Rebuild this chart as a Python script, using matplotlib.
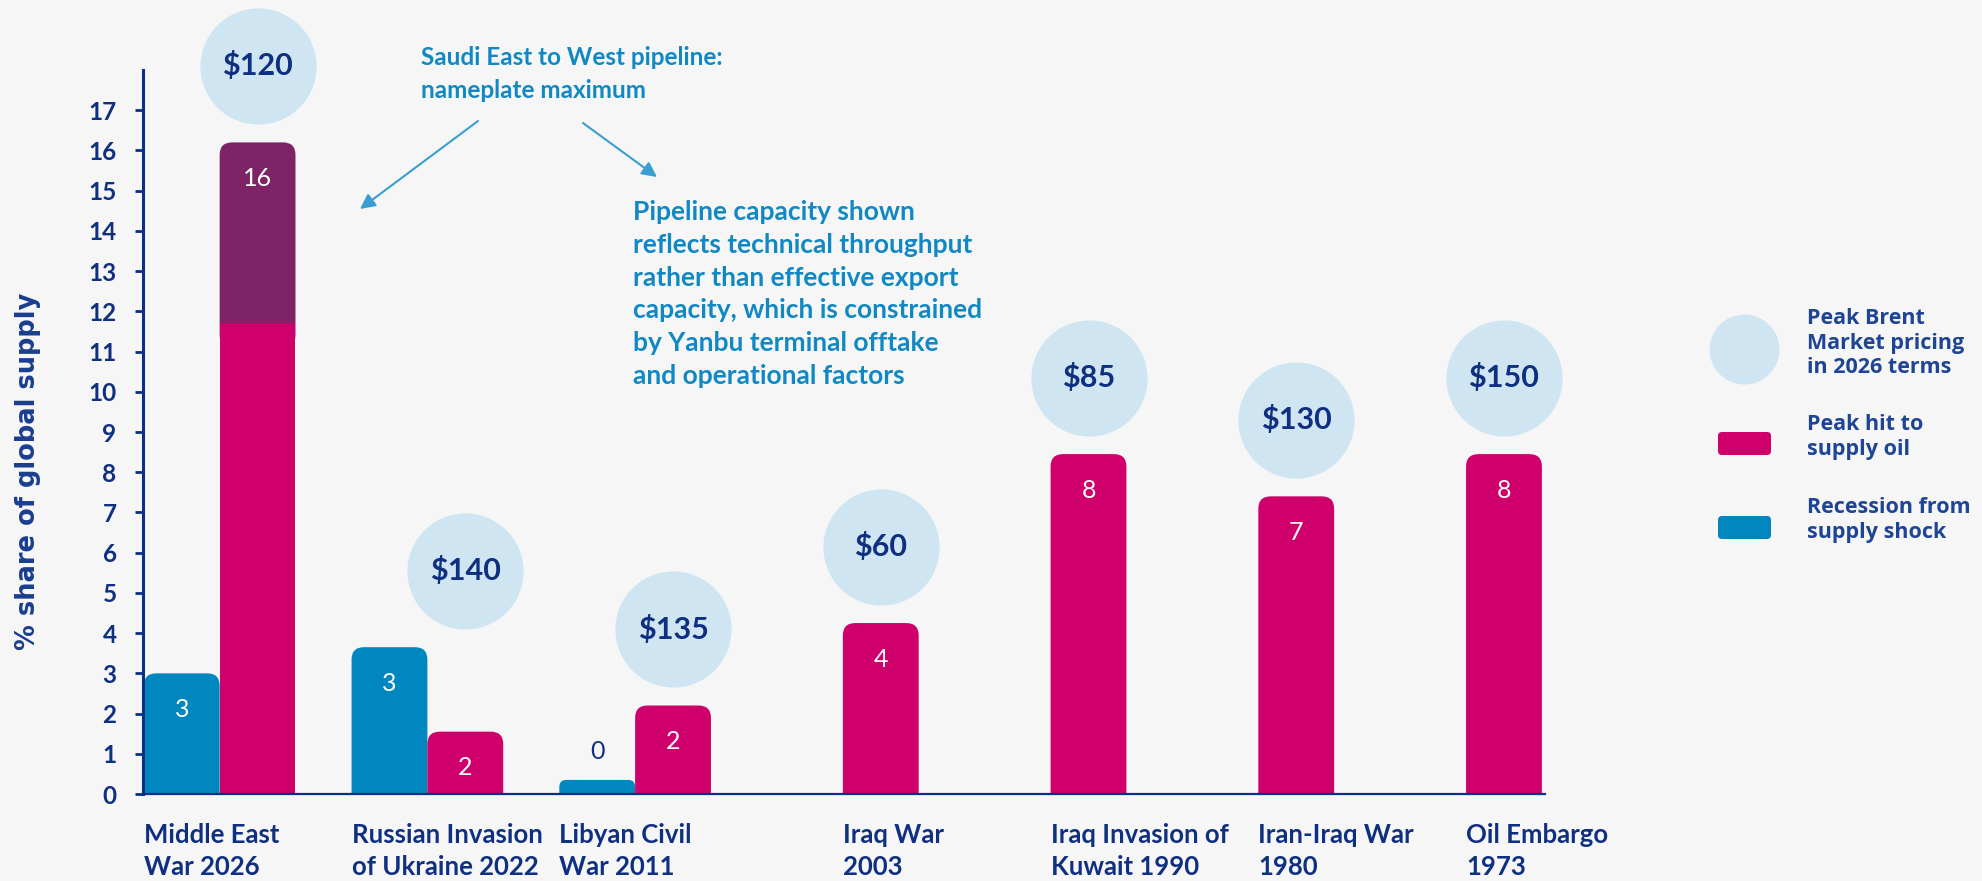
import matplotlib
matplotlib.use("Agg")
import matplotlib.pyplot as plt
import numpy as np
from matplotlib import font_manager
from matplotlib.patches import FancyBboxPatch

# values (% share of global supply)
categories = ["Middle East\nWar 2026", "Russian Invasion\nof Ukraine 2022", "Libyan Civil\nWar 2011",
              "Iraq War\n2003", "Iraq Invasion of\nKuwait 1990", "Iran-Iraq War\n1980", "Oil Embargo\n1973"]
recession = [3.0, 3.65, 0.35, np.nan, np.nan, np.nan, np.nan]
supply_hit = [11.7, 1.55, 2.2, 4.25, 8.45, 7.4, 8.45]
pipeline_extra = [4.5, 0, 0, 0, 0, 0, 0]
recession_labels = ["3", "3", "0", "", "", "", ""]
supply_labels = ["", "2", "2", "4", "8", "7", "8"]
pipeline_labels = ["16", "", "", "", "", "", ""]
brent_prices = ["$120", "$140", "$135", "$60", "$85", "$130", "$150"]
y_ticks = list(range(0, 18))

BG = "#f6f6f6"
NAVY = "#0f2f80"
LEG_NAVY = "#1e4495"
AXIS = "#0a2f86"
BLUE = "#0187bf"
MAGENTA = "#cf006b"
PURPLE = "#7e2466"
BUBBLE = "#cfe6f2"
NOTE = "#0f88c4"
ARROW = "#3a9ed0"

installed = {f.name for f in font_manager.fontManager.ttflist}


def pick(*names):
    for n in names:
        if n in installed:
            return n
    return "DejaVu Sans"


MAIN = pick("Lato", "Roboto", "Open Sans")
PLAIN = pick("Open Sans", "Lato", "DejaVu Sans")

W, H = 1982, 881
fig = plt.figure(figsize=(W / 100, H / 100), dpi=100, facecolor=BG)
ax = fig.add_axes([143 / W, 1 - 794 / H, (1545 - 143) / W, (794 - 70) / H])
ax.set_facecolor(BG)

x = np.arange(len(categories))
bw = 0.365
ax.set_xlim(-0.369, 6.38)
ax.set_ylim(0, 18)

rec_bars = ax.bar(x - bw, recession, width=bw, align="edge", color=BLUE, zorder=2)
hit_bars = ax.bar(x, supply_hit, width=bw, align="edge", color=MAGENTA, zorder=2)
pipe_bars = ax.bar(x, pipeline_extra, width=bw, bottom=supply_hit, align="edge", color=PURPLE, zorder=2)

# swap each top segment for a box with rounded top corners; the bottom corners
# are pushed below the baseline (clipped) or under the segment below
p0 = ax.transData.transform((0, 0))
p1 = ax.transData.transform((1, 1))
aspect = (p1[0] - p0[0]) / (p1[1] - p0[1])


def round_top(rect, radius=0.06, zorder=2):
    h = rect.get_height()
    rect.set_visible(False)
    if not np.isfinite(h) or h <= 0:
        return
    x0, y0 = rect.get_xy()
    w = rect.get_width()
    ext = 0.6
    r = min(radius, 0.5 * h / aspect, 0.5 * w)
    ax.add_patch(FancyBboxPatch((x0, y0 - ext), w, h + ext,
                                boxstyle=f"round,pad=0,rounding_size={r}",
                                mutation_aspect=aspect, fc=rect.get_facecolor(), ec="none",
                                lw=0, zorder=zorder))


for r in rec_bars:
    round_top(r)
for i, r in enumerate(hit_bars):
    if pipeline_extra[i] <= 0:
        round_top(r)
for r in pipe_bars:
    round_top(r, zorder=1.9)

# value labels
lab_kw = dict(ha="center", va="center", fontsize=18, family=MAIN, zorder=4)
for i in x:
    if recession_labels[i]:
        h = recession[i]
        if h > 1.5:
            ax.text(i - bw / 2, h - 0.9, recession_labels[i], color="white", **lab_kw)
        else:
            ax.text(i - bw / 2, h + 0.7, recession_labels[i], color=NAVY, **lab_kw)
    if supply_labels[i]:
        ax.text(i + bw / 2, supply_hit[i] - 0.9, supply_labels[i], color="white", **lab_kw)
    if pipeline_labels[i]:
        ax.text(i + bw / 2, supply_hit[i] + pipeline_extra[i] - 0.9, pipeline_labels[i],
                color="white", **lab_kw)

# Brent price bubbles above the supply-hit bars
group_top = np.nanmax(np.vstack([np.nan_to_num(recession),
                                 np.add(supply_hit, pipeline_extra)]), axis=0)
bubble_x = x + bw / 2
bubble_y = group_top + 1.9
ax.scatter(bubble_x, bubble_y, s=7000, color=BUBBLE, linewidths=0, clip_on=False, zorder=3)
for i, p in enumerate(brent_prices):
    ax.text(bubble_x[i], bubble_y[i], p, ha="center", va="center", fontsize=22, fontweight="bold",
            family=MAIN, color=NAVY, zorder=4, clip_on=False)

# category labels, left aligned under the first bar of each group
for i, cat in enumerate(categories):
    left = i - bw if np.isfinite(recession[i]) else i
    ax.text(left, -0.72, cat, ha="left", va="top", fontsize=18.5, fontweight="bold",
            family=MAIN, color=NAVY, linespacing=1.38, clip_on=False)

# axes styling
for s in ["top", "right"]:
    ax.spines[s].set_visible(False)
ax.spines["left"].set_color(AXIS)
ax.spines["left"].set_linewidth(2.2)
ax.spines["bottom"].set_color(AXIS)
ax.spines["bottom"].set_linewidth(1.6)
ax.set_xticks([])
ax.set_yticks(y_ticks)
ax.tick_params(axis="y", length=6, width=2, color=AXIS, pad=13, labelsize=17.5, labelcolor=NAVY)
for lbl in ax.get_yticklabels():
    lbl.set_fontfamily(MAIN)
    lbl.set_fontweight("bold")

# overlay in reference pixel coordinates for notes and legend
ov = fig.add_axes([0, 0, 1, 1], zorder=5)
ov.set_xlim(0, W)
ov.set_ylim(H, 0)
ov.axis("off")
ov.patch.set_visible(False)

ov.text(28, 471, "% share of global supply", rotation=90, ha="center", va="center",
        fontsize=18.5, fontweight="bold", family="DejaVu Sans", color="#1a3e8f")

ov.text(421, 74, "Saudi East to West pipeline:\nnameplate maximum", ha="left", va="center",
        fontsize=17.5, fontweight="bold", family=MAIN, color=NOTE, linespacing=1.55)
ov.text(633, 294, "Pipeline capacity shown\nreflects technical throughput\nrather than effective export\n"
        "capacity, which is constrained\nby Yanbu terminal offtake\nand operational factors",
        ha="left", va="center", fontsize=19, fontweight="bold", family=MAIN, color=NOTE,
        linespacing=1.43)
arrow_kw = dict(arrowstyle="-|>,head_length=0.9,head_width=0.45", color=ARROW, lw=1.5,
                shrinkA=0, shrinkB=0)
ov.annotate("", xy=(360, 209), xytext=(478, 121), arrowprops=arrow_kw)
ov.annotate("", xy=(657, 177), xytext=(583, 123), arrowprops=arrow_kw)

# legend
ov.scatter([1744], [349], s=2540, color=BUBBLE, linewidths=0)
ov.add_patch(FancyBboxPatch((1718, 432), 53, 23, boxstyle="round,pad=0,rounding_size=4",
                            fc=MAGENTA, ec="none"))
ov.add_patch(FancyBboxPatch((1718, 516), 53, 23, boxstyle="round,pad=0,rounding_size=4",
                            fc=BLUE, ec="none"))
leg_kw = dict(ha="left", va="center", fontsize=15.5, fontweight="bold", family=PLAIN,
              color=LEG_NAVY, linespacing=1.2)
ov.text(1807, 343, "Peak Brent\nMarket pricing\nin 2026 terms", **leg_kw)
ov.text(1807, 437, "Peak hit to\nsupply oil", **leg_kw)
ov.text(1807, 520, "Recession from\nsupply shock", **leg_kw)

fig.savefig("out.png", dpi=100, facecolor=BG)
